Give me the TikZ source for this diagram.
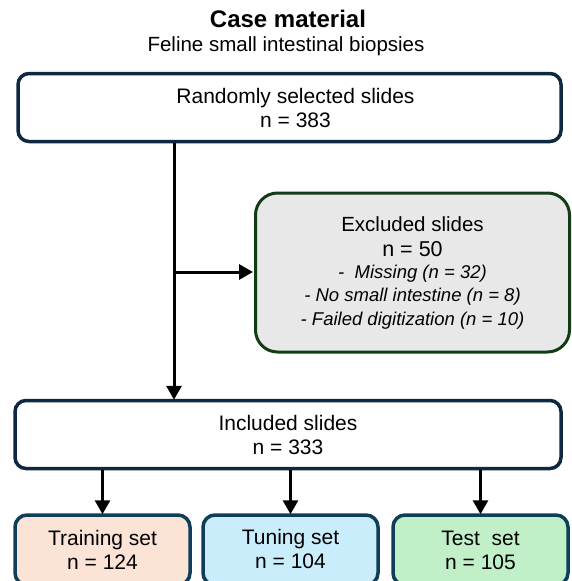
\documentclass[tikz,border=0pt]{standalone}
\usepackage{fontspec}
\setmainfont{Liberation Sans}
\usetikzlibrary{arrows.meta}
\definecolor{navy}{HTML}{0E2841}
\definecolor{teal}{HTML}{0F3F58}
\definecolor{dgreen}{HTML}{123D14}
\definecolor{exfill}{HTML}{E8E8E8}
\definecolor{trfill}{HTML}{FBE3D6}
\definecolor{tufill}{HTML}{CAEDFB}
\definecolor{tefill}{HTML}{C1F0C8}
\tikzset{
  mainbox/.style={draw=navy, line width=3.5pt, rounded corners=11pt, fill=white,
    minimum height=68pt, inner sep=0pt, align=center,
    font=\fontsize{21}{24}\selectfont},
  exbox/.style={draw=dgreen, line width=3pt, rounded corners=22pt, fill=exfill,
    minimum width=314pt, minimum height=159pt, inner sep=0pt, align=center,
    font=\fontsize{18.5}{23.5}\selectfont},
  setbox/.style={draw=teal, line width=3.5pt, rounded corners=12pt,
    minimum width=175pt, minimum height=70pt, inner sep=0pt, align=center,
    font=\fontsize{21}{24}\selectfont},
  arr/.style={line width=3pt, -{Triangle[length=14pt,width=15pt]}},
  ttl/.style={inner sep=0pt}
}
\begin{document}
\begin{tikzpicture}[x=1pt,y=-1pt]
\useasboundingbox (0,0) rectangle (571,581);
\clip (0,0) rectangle (571,581);
\node[ttl, font=\fontsize{24}{28}\selectfont\bfseries] (title) at (288,19) {Case material};
\node[ttl, font=\fontsize{20.5}{24}\selectfont] (sub) at (286,46) {Feline small intestinal biopsies};
\node[mainbox, minimum width=543pt] (box1) at (289.5,107.5) {\hspace{12pt}Randomly selected slides\\\hspace{12pt}n = 383};
\node[exbox] (excl) at (412.5,272.5) {%
  {\fontsize{20.5}{23.5}\selectfont Excluded slides}\\[1.5pt]
  {\fontsize{21.5}{23.5}\selectfont n = 50}\\[-1.5pt]
  {\itshape -\ \ Missing (n = 32)}\\
  {\itshape - No small intestine (n = 8)}\\
  {\itshape - Failed digitization (n = 10)}};
\node[mainbox, minimum width=546pt] (incl) at (288,434.5) {Included slides\\n = 333};
\node[setbox, fill=trfill] (train) at (102.5,550) {Training set\\n = 124};
\node[setbox, fill=tufill] (tune) at (290.5,550) {\raisebox{2pt}{Tuning set}\\\raisebox{2pt}{n = 104}};
\node[setbox, fill=tefill] (test) at (480.5,550) {Test\ \ set\\n = 105};
\coordinate (vx) at (174,0);
\coordinate (br) at (174,272);
\draw[arr] (box1.south -| vx) -- ([yshift=-1pt]incl.north -| vx);
\draw[arr] (br) -- ([xshift=-1pt]br -| excl.west);
\draw[arr] (incl.south -| train.north) -- ([yshift=-1pt]train.north);
\draw[arr] (incl.south -| tune.north) -- ([yshift=-1pt]tune.north);
\draw[arr] (incl.south -| test.north) -- ([yshift=-1pt]test.north);
\end{tikzpicture}
\end{document}
